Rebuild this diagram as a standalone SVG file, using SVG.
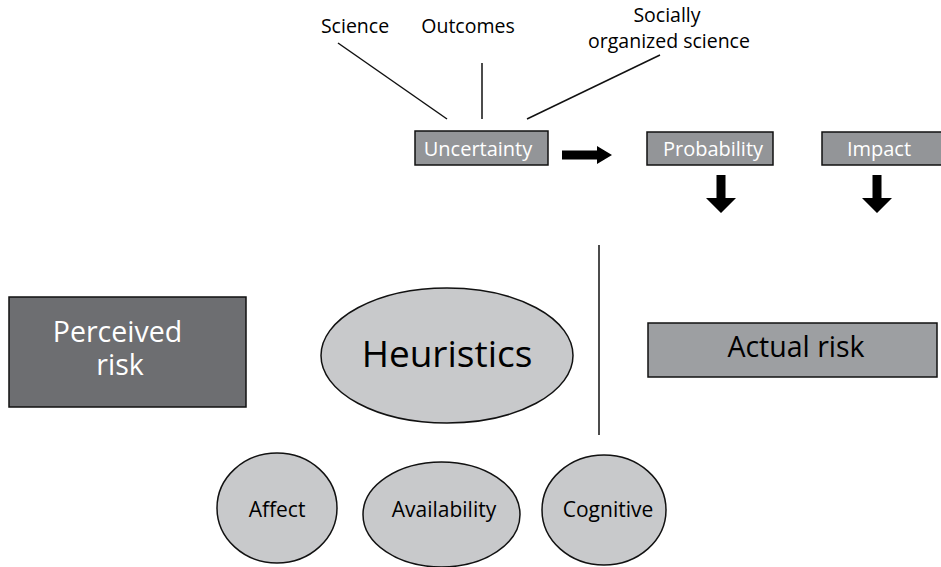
<svg xmlns="http://www.w3.org/2000/svg" width="941" height="567" viewBox="0 0 941 567">
<style>
text{font-family:"Open Sans","Noto Sans",sans-serif;text-anchor:middle}
.lbl{font-size:19.5px;fill:#000}
.box{fill:#939598;stroke:#111;stroke-width:1.5}
.boxt{font-size:20px;fill:#fff}
.ell{fill:#c8c9cb;stroke:#111;stroke-width:1.5}
.sm{font-size:21px;fill:#000}
.ln{stroke:#111;stroke-width:1.5;fill:none}
.arr{fill:#000}
</style>
<rect width="941" height="567" fill="#fff"/>
<g id="science"><text class="lbl" x="355" y="33">Science</text></g>
<g id="outcomes"><text class="lbl" x="468" y="33">Outcomes</text></g>
<g id="social"><text class="lbl" x="667" y="22">Socially</text><text class="lbl" x="669" y="48">organized science</text></g>
<g id="uncertainty"><rect class="box" x="415" y="131" width="133" height="34"/><text class="boxt" x="478" y="156">Uncertainty</text></g>
<g id="probability"><rect class="box" x="647" y="132" width="126" height="33"/><text class="boxt" x="713" y="156">Probability</text></g>
<g id="impact"><rect class="box" x="822" y="132" width="125" height="33"/><text class="boxt" x="879" y="156">Impact</text></g>
<g id="perceived"><rect x="9" y="297" width="237" height="110" fill="#6d6e71" stroke="#111" stroke-width="1.5"/><text x="117.5" y="342" font-size="28.5" fill="#fff">Perceived</text><text x="120" y="375" font-size="28.5" fill="#fff">risk</text></g>
<g id="heuristics"><ellipse class="ell" cx="447" cy="355.5" rx="126" ry="67.5"/><text x="447" y="367" font-size="37" fill="#000">Heuristics</text></g>
<g id="actual"><rect x="648" y="323" width="289" height="54" fill="#9d9fa2" stroke="#111" stroke-width="1.5"/><text x="796" y="357" font-size="28.5" fill="#000">Actual risk</text></g>
<g id="affect"><ellipse class="ell" cx="277" cy="508" rx="60" ry="55"/><text class="sm" x="277" y="517">Affect</text></g>
<g id="availability"><ellipse class="ell" cx="441.5" cy="514.5" rx="78.5" ry="52.5"/><text class="sm" x="444" y="517">Availability</text></g>
<g id="cognitive"><ellipse class="ell" cx="604" cy="510" rx="62" ry="55"/><text class="sm" x="608" y="517">Cognitive</text></g>
<g id="connectors">
<line class="ln" x1="338" y1="43" x2="447" y2="119"/>
<line class="ln" x1="482" y1="63" x2="482" y2="119"/>
<line class="ln" x1="527" y1="119" x2="660" y2="55"/>
<line class="ln" x1="599" y1="245" x2="599" y2="435"/>
<path class="arr" d="M562,150.5 H597 V146 L612,155 L597,164 V159.5 H562 Z"/>
<path class="arr" d="M716.5,175 H725.5 V198 H736 L721,213 L706,198 H716.5 Z"/>
<path class="arr" d="M872.5,175 H881.5 V198 H892 L877,213 L862,198 H872.5 Z"/>
</g>
</svg>
